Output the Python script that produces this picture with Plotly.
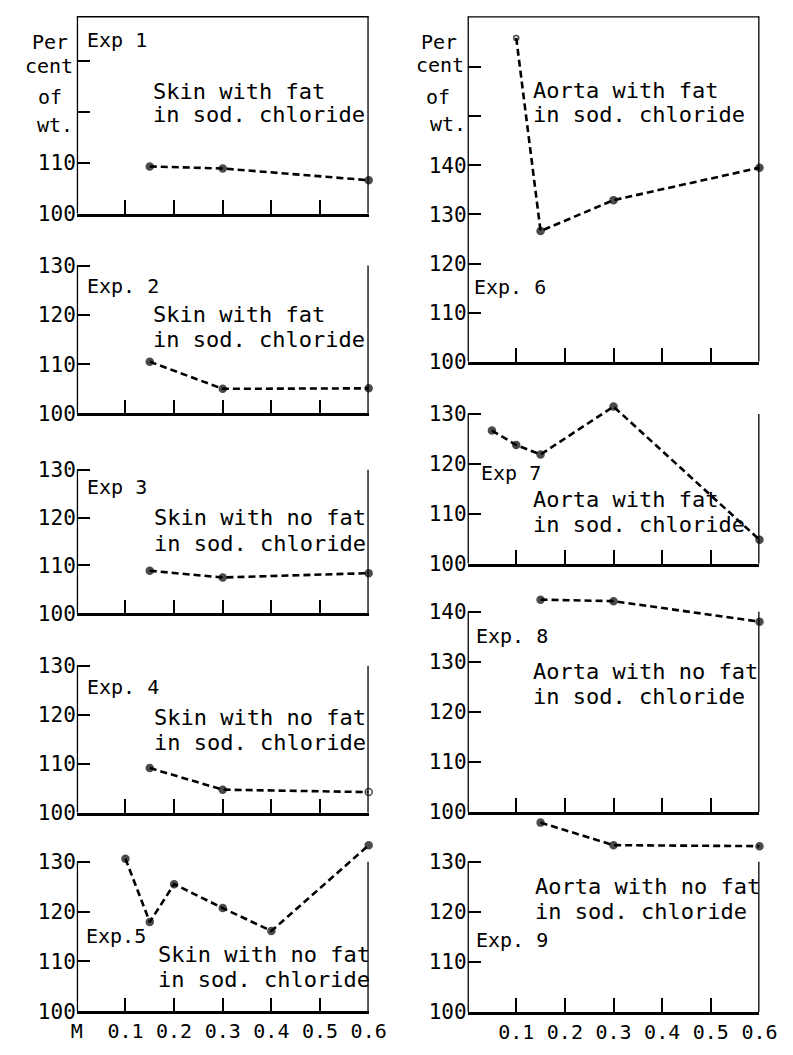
import plotly.graph_objects as go

# ---------------- data ----------------
exp_labels = ["Exp 1", "Exp. 2", "Exp 3", "Exp. 4", "Exp.5", "Exp. 6", "Exp 7", "Exp. 8", "Exp. 9"]
desc_line1 = ["Skin with fat", "Skin with fat", "Skin with no fat", "Skin with no fat",
              "Skin with no fat", "Aorta with fat", "Aorta with fat", "Aorta with no fat",
              "Aorta with no fat"]
desc_line2 = ["in sod. chloride"] * 9

x_exp1 = [0.15, 0.3, 0.6]
y_exp1 = [109.3, 108.9, 106.6]
x_exp2 = [0.15, 0.3, 0.6]
y_exp2 = [110.5, 105.0, 105.1]
x_exp3 = [0.15, 0.3, 0.6]
y_exp3 = [108.9, 107.5, 108.4]
x_exp4 = [0.15, 0.3, 0.6]
y_exp4 = [109.1, 104.7, 104.2]
x_exp5 = [0.1, 0.15, 0.2, 0.3, 0.4, 0.6]
y_exp5 = [130.6, 117.9, 125.5, 120.7, 116.1, 133.3]
x_exp6 = [0.1, 0.15, 0.3, 0.6]
y_exp6 = [165.9, 126.6, 132.9, 139.5]
x_exp7 = [0.05, 0.1, 0.15, 0.3, 0.6]
y_exp7 = [126.7, 123.8, 121.9, 131.5, 104.8]
x_exp8 = [0.15, 0.3, 0.6]
y_exp8 = [142.4, 142.1, 138.0]
x_exp9 = [0.15, 0.3, 0.6]
y_exp9 = [137.8, 133.3, 133.1]

xs_all = [x_exp1, x_exp2, x_exp3, x_exp4, x_exp5, x_exp6, x_exp7, x_exp8, x_exp9]
ys_all = [y_exp1, y_exp2, y_exp3, y_exp4, y_exp5, y_exp6, y_exp7, y_exp8, y_exp9]

x_tick_vals = [0.1, 0.2, 0.3, 0.4, 0.5, 0.6]
x_tick_text = ["0.1", "0.2", "0.3", "0.4", "0.5", "0.6"]
y_label_text = ["Per", "cent", "of", "wt."]

# ---------------- layout geometry (reference pixels) ----------------
W, H = 793, 1055
FONT = "DejaVu Sans Mono"
col_px = {"L": (73, 374), "R": (476, 777)}
X_MAX = 0.6
# col, px of y=100, px per unit, axis top value, range max, tick values, labelled ticks, top border
panels = [
    ("L", 209.0, 5.20, 138.8, 138.8, [100, 110, 120, 130], [100, 110], True),
    ("L", 412.7, 5.033, 130, 130.5, [100, 110, 120, 130], [100, 110, 120, 130], False),
    ("L", 616.7, 4.89, 130, 130.5, [100, 110, 120, 130], [100, 110, 120, 130], False),
    ("L", 820.0, 5.00, 130, 130.5, [100, 110, 120, 130], [100, 110, 120, 130], False),
    ("L", 1022.7, 5.09, 130, 136, [100, 110, 120, 130], [100, 110, 120, 130], False),
    ("R", 360.0, 5.015, 170.3, 170.3, [100, 110, 120, 130, 140, 150, 160], [100, 110, 120, 130, 140], True),
    ("R", 566.0, 5.09, 130, 134, [100, 110, 120, 130], [100, 110, 120, 130], False),
    ("R", 819.3, 5.11, 140, 145, [100, 110, 120, 130, 140], [100, 110, 120, 130, 140], False),
    ("R", 1023.3, 5.11, 130, 141, [100, 110, 120, 130], [100, 110, 120, 130], False),
]
exp_pos = [(81, 32), (81, 283), (81, 488), (81, 692), (80, 946),
           (481, 284), (488, 473), (483, 640), (483, 950)]
desc_pos = [(150, 84, 108), (150, 312, 337), (151, 519, 545), (151, 723, 748), (155, 965, 990),
            (541, 83, 108), (541, 500, 526), (541, 676, 701), (543, 895, 921)]
ylab_pos = {"L": [(45, 34), (44, 58), (45, 90), (51, 118)],
            "R": [(447, 34), (448, 57), (445, 90), (456, 117)]}


def fx(p):
    return p / W


def fy(p):
    return min(1.0, max(0.0, 1 - p / H))


fig = go.Figure()
annotations = []
shapes = []
line_style = dict(color="black", width=2.6)
for i, (col, bot, scale, atop, ymax, tvals, lvals, border) in enumerate(panels):
    n = "" if i == 0 else str(i + 1)
    xr, yr = "x" + n, "y" + n
    symbols = ["circle"] * len(xs_all[i])
    sizes = [7] * len(xs_all[i])
    if i == 5:
        symbols[0] = "circle-open"
        sizes[0] = 5
    if i == 3:
        symbols[-1] = "circle-open"
    fig.add_trace(go.Scatter(
        x=xs_all[i], y=ys_all[i], xaxis=xr, yaxis=yr,
        mode="lines+markers", cliponaxis=False, showlegend=False,
        line=dict(color="black", width=2.6, dash="7px,4px"),
        marker=dict(color="black", size=sizes, symbol=symbols,
                    line=dict(color="black", width=1.5)),
    ))
    x0, x1 = col_px[col]
    top_px = bot - (ymax - 100) * scale
    if i == 4:
        xtv = [0.0] + x_tick_vals
        xtt = ["M"] + x_tick_text
    elif i == 8:
        xtv = x_tick_vals
        xtt = x_tick_text
    else:
        xtv = x_tick_vals
        xtt = [""] * len(x_tick_vals)
    fig.update_layout(**{
        "xaxis" + n: dict(
            domain=[fx(x0), fx(x1)], anchor=yr, range=[0, X_MAX],
            showline=True, linecolor="black", linewidth=2.6, mirror=False,
            showgrid=False, zeroline=False, ticks="inside", ticklen=14,
            tickwidth=2, tickcolor="black", tickvals=xtv, ticktext=xtt,
            tickfont=dict(family=FONT, size=20, color="black"),
            fixedrange=True,
        ),
        "yaxis" + n: dict(
            domain=[fy(bot), fy(top_px)], anchor=xr, range=[100, ymax],
            showline=False, showgrid=False, zeroline=False, ticks="inside", ticklen=13,
            tickwidth=2, tickcolor="black", tickvals=tvals,
            ticktext=[str(v) if v in lvals else "" for v in tvals],
            tickfont=dict(family=FONT, size=21, color="black"),
            fixedrange=True,
        ),
    })
    shapes.append(dict(type="line", xref=xr, yref=yr, x0=0, x1=0, y0=100, y1=atop, line=line_style))
    shapes.append(dict(type="line", xref=xr, yref=yr, x0=X_MAX, x1=X_MAX, y0=100, y1=atop, line=line_style))
    if border:
        shapes.append(dict(type="line", xref=xr, yref=yr, x0=0, x1=X_MAX, y0=atop, y1=atop, line=line_style))

    ex, ey = exp_pos[i]
    annotations.append(dict(
        x=fx(ex), y=fy(ey), xref="paper", yref="paper", text=exp_labels[i],
        showarrow=False, xanchor="left", yanchor="middle",
        font=dict(family=FONT, size=20, color="black"),
    ))
    dx, dy1, dy2 = desc_pos[i]
    for txt, dy in ((desc_line1[i], dy1), (desc_line2[i], dy2)):
        annotations.append(dict(
            x=fx(dx), y=fy(dy), xref="paper", yref="paper", text=txt,
            showarrow=False, xanchor="left", yanchor="middle", align="left",
            font=dict(family=FONT, size=22, color="black"),
        ))

for col in ("L", "R"):
    for txt, (lx, ly) in zip(y_label_text, ylab_pos[col]):
        annotations.append(dict(
            x=fx(lx), y=fy(ly), xref="paper", yref="paper", text=txt,
            showarrow=False, xanchor="center", yanchor="middle",
            font=dict(family=FONT, size=20, color="black"),
        ))

fig.update_layout(
    width=W, height=H, margin=dict(l=0, r=0, t=0, b=0),
    paper_bgcolor="white", plot_bgcolor="rgba(0,0,0,0)",
    annotations=annotations, shapes=shapes,
)

fig.write_html(
    "out.html",
    config={"displayModeBar": False},
    post_script="document.body.style.margin='0';document.documentElement.style.overflow='hidden';",
)
